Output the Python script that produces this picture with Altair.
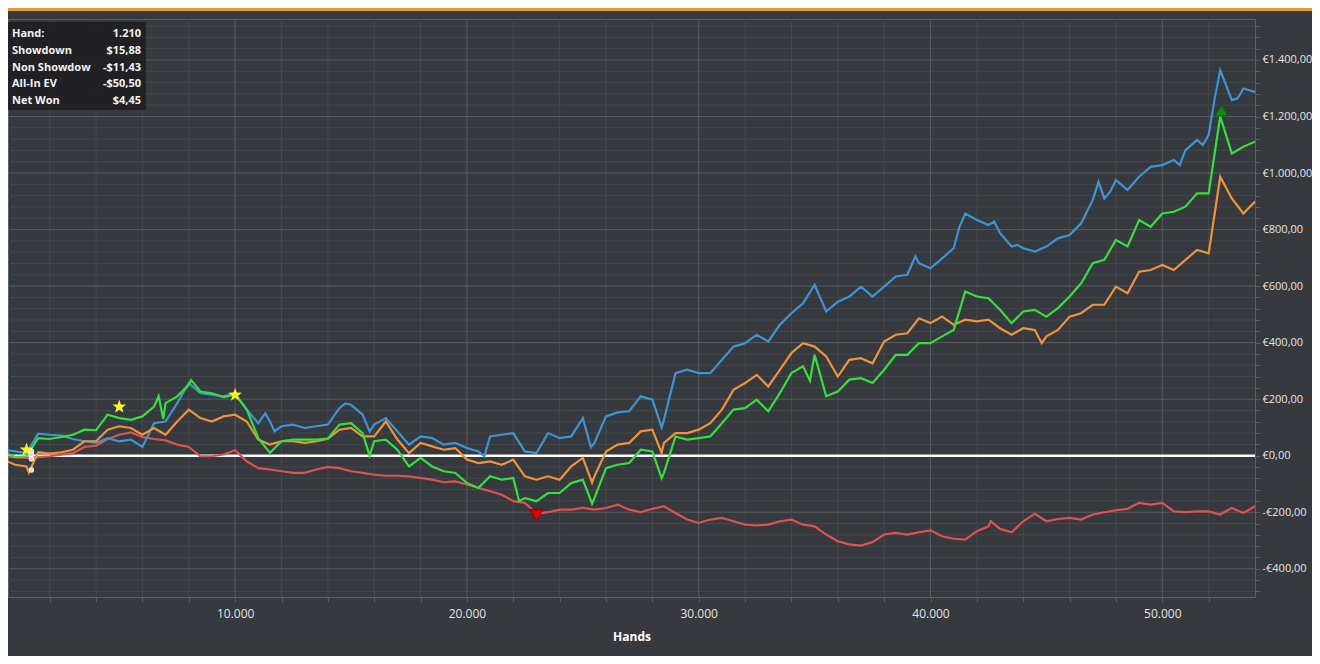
import altair as alt
import pandas as pd

# ---------------- data ----------------
hands = list(range(0, 54001, 500))

showdown = [21, 15, 9, 78, 74, 71, 59, 51, 45, 62, 51, 57, 31, 115, 121, 186, 257, 221, 216, 210,
            221, 163, 115, 121, 104, 110, 98, 104, 110, 168, 180, 145, 110, 133, 86, 39, 68, 62, 39, 45,
            27, 15, 68, 74, 80, 15, 9, 80, 62, 68, 133, 45, 139, 153, 157, 210, 198, 127, 292, 304,
            292, 292, 339, 386, 398, 428, 404, 463, 504, 539, 604, 510, 545, 563, 598, 563, 598, 634, 640, 681,
            663, 698, 734, 857, 834, 816, 787, 740, 734, 722, 740, 769, 781, 822, 905, 910, 975, 940, 987, 1022,
            1028, 1046, 1081, 1117, 1134, 1364, 1258, 1299, 1287]
showdown_extra_hands = [11300, 11700, 14750, 15800, 20750, 25350, 28400, 39350,
                        41250, 42750, 43750, 47250, 47750, 50750, 51750, 52250, 53250]
showdown_extra_values = [150, 86, 185, 86, -2, 30, 100, 705,
                         810, 828, 746, 969, 934, 1028, 1099, 1258, 1264]

net_won = [15, -5, -2, 62, 59, 66, 74, 92, 90, 145, 133, 127, 139, 174, 186, 210, 251, 227, 221, 207,
           216, 163, 62, 10, 51, 57, 57, 57, 60, 110, 115, 80, 51, 57, 21, -38, -8, -38, -55, -61,
           -97, -114, -73, -85, -79, -150, -161, -132, -132, -97, -85, -150, -44, -32, -26, 21, 15, -61, 68, 57,
           62, 68, 115, 163, 168, 198, 157, 221, 292, 316, 357, 210, 227, 269, 274, 257, 304, 357, 357, 398,
           398, 422, 445, 581, 563, 557, 516, 469, 510, 516, 492, 522, 563, 610, 681, 693, 763, 740, 834, 810,
           857, 863, 881, 928, 928, 1200, 1069, 1093, 1111]
net_won_extra_hands = [6700, 6900, 8100, 15800, 22250, 25400, 28400, 34800]
net_won_extra_values = [210, 130, 268, 0, -160, -170, -80, 265]

allin_ev = [-14, -32, -38, 12, 7, 12, 21, 51, 51, 92, 104, 98, 74, 98, 74, 121, 163, 133, 121, 139,
            145, 121, 57, 39, 51, 51, 45, 51, 60, 92, 98, 68, 68, 121, 57, 9, 45, 33, 21, 27,
            -14, -26, -20, -32, -14, -73, -85, -73, -85, -38, -8, -73, 15, 39, 45, 86, 92, 45, 80, 80,
            92, 115, 163, 233, 257, 286, 245, 304, 363, 398, 386, 351, 280, 339, 345, 327, 404, 428, 433, 486,
            469, 492, 463, 481, 475, 481, 451, 428, 451, 445, 422, 445, 492, 504, 534, 534, 598, 575, 651, 657,
            675, 657, 693, 728, 716, 987, 910, 857, 899]
allin_ev_extra_hands = [1100, 25400, 28400, 44800]
allin_ev_extra_values = [-60, -95, 10, 398]

non_showdown = [-2, -6, -8, -5, -2, 4, 9, 31, 35, 59, 74, 82, 66, 59, 54, 39, 31, -2, -2, 4,
                19, -20, -44, -49, -55, -61, -61, -49, -40, -44, -55, -61, -67, -71, -71, -73, -79, -85, -94, -91,
                -102, -114, -126, -138, -161, -167, -205, -200, -191, -191, -185, -191, -185, -173, -191, -200, -188, -179, -203, -226,
                -238, -226, -220, -232, -244, -247, -244, -232, -226, -244, -250, -279, -303, -314, -318, -306, -279, -273, -279, -271,
                -264, -285, -294, -297, -267, -250, -259, -271, -232, -206, -232, -224, -220, -226, -208, -200, -193, -188, -167, -173,
                -167, -197, -200, -197, -197, -208, -185, -203, -179]
non_showdown_extra_hands = [42600]
non_showdown_extra_values = [-232]

star_hands = [1000, 5000, 10000]
star_values = [21, 173, 215]
min_hand, min_value = [23000], [-210]
max_hand, max_value = [52550], [1222]
hover_hand = 1210
hover_values = [15.88, -11.43, -50.50, 4.45]

tooltip_labels = ["Hand:", "Showdown", "Non Showdown", "All-In EV", "Net Won"]
tooltip_values = ["1.210", "$15,88", "-$11,43", "-$50,50", "$4,45"]

x_ticks = list(range(2000, 54000, 2000))
y_ticks = list(range(-480, 1545, 40))

# ---------------- styling ----------------
BG = "#36393d"
GRID_MINOR = "#44484d"
GRID_MAJOR = "#575b60"
LABEL = "#e4e4e4"
FONT = "Open Sans"
STAR = ("M0,-1 L0.235,-0.324 L0.951,-0.309 L0.38,0.124 L0.588,0.809 L0,0.4 "
        "L-0.588,0.809 L-0.38,0.124 L-0.951,-0.309 L-0.235,-0.324 Z")

xs = alt.Scale(domain=[200, 54000], nice=False, zero=False)
ys = alt.Scale(domain=[-500, 1545], nice=False, zero=False)

x_axis = alt.Axis(
    values=x_ticks, grid=False, domain=False, tickColor=GRID_MAJOR, tickSize=5,
    labelExpr="datum.value % 10000 == 0 ? replace(format(datum.value, ','), ',', '.') : ''",
    labelOverlap=False, labelFlush=False, labelPadding=6, labelColor=LABEL, labelFontSize=12,
    labelFont=FONT, title="Hands", titleColor="#ffffff", titleFontSize=12, titleFont=FONT,
    titleFontWeight="bold", titlePadding=12,
)
y_axis = alt.Axis(
    orient="right", values=y_ticks, grid=False, domain=False, tickColor=GRID_MAJOR, tickSize=5,
    labelExpr=("datum.value % 200 != 0 ? '' : (datum.value < 0 ? '-' : '') + '€' + "
               "replace(replace(replace(format(abs(datum.value), ',.2f'), '.', '#'), ',', '.'), '#', ',')"),
    labelOverlap=False, labelFlush=False, labelPadding=2, labelColor=LABEL, labelFontSize=11,
    labelFont=FONT, title=None,
)

X = alt.X("hand:Q", scale=xs, axis=x_axis)
Y = alt.Y("value:Q", scale=ys, axis=y_axis)

# ---------------- grid ----------------
xg = pd.DataFrame({"hand": x_ticks})
xg_minor = xg[xg["hand"] % 10000 != 0]
xg_major = xg[xg["hand"] % 10000 == 0]
yg = pd.DataFrame({"value": y_ticks})
yg_minor = yg[yg["value"] % 200 != 0]
yg_major = yg[(yg["value"] % 200 == 0) & (yg["value"] != 0)]

grid = [
    alt.Chart(xg_minor).mark_rule(color=GRID_MINOR, strokeWidth=1).encode(x=X),
    alt.Chart(yg_minor).mark_rule(color=GRID_MINOR, strokeWidth=1).encode(y=Y),
    alt.Chart(xg_major).mark_rule(color=GRID_MAJOR, strokeWidth=1).encode(x=X),
    alt.Chart(yg_major).mark_rule(color=GRID_MAJOR, strokeWidth=1).encode(y=Y),
]

zero = alt.Chart(pd.DataFrame({"value": [0]})).mark_rule(color="#ffffff", strokeWidth=2.5).encode(y=Y)


def line(vals, extra_h, extra_v, color):
    df = pd.concat([
        pd.DataFrame({"hand": hands, "value": vals}),
        pd.DataFrame({"hand": extra_h, "value": extra_v}),
    ]).sort_values("hand").reset_index(drop=True)
    return alt.Chart(df).mark_line(color=color, strokeWidth=2.2, clip=True).encode(
        x=X, y=Y, order="hand:Q")


lines = [
    line(non_showdown, non_showdown_extra_hands, non_showdown_extra_values, "#de5252"),
    line(showdown, showdown_extra_hands, showdown_extra_values, "#3c96d6"),
    line(allin_ev, allin_ev_extra_hands, allin_ev_extra_values, "#ee9439"),
    line(net_won, net_won_extra_hands, net_won_extra_values, "#34e03d"),
]

stars = alt.Chart(pd.DataFrame({"hand": star_hands, "value": star_values})).mark_point(
    shape=STAR, filled=True, size=210, color="#fff21a", opacity=1).encode(x=X, y=Y)
tri_down = alt.Chart(pd.DataFrame({"hand": min_hand, "value": min_value})).mark_point(
    shape="triangle-down", filled=True, size=170, fill="#e00000", stroke="#8a0000",
    strokeWidth=1, opacity=1).encode(x=X, y=Y)
tri_up = alt.Chart(pd.DataFrame({"hand": max_hand, "value": max_value})).mark_point(
    shape="triangle-up", filled=True, size=170, fill="#0b8a12", stroke="#075c0b",
    strokeWidth=1, opacity=1).encode(x=X, y=Y)
hover = alt.Chart(pd.DataFrame({"hand": [hover_hand] * 4, "value": hover_values})).mark_point(
    shape="circle", filled=True, size=22, fill="#d8d8d8", stroke="#ffffff", strokeWidth=1,
    opacity=1).encode(x=X, y=Y)

one = pd.DataFrame({"a": [0]})
box = alt.Chart(one).mark_rect(fill="#1f2023", opacity=0.92).encode(
    x=alt.value(0), x2=alt.value(138), y=alt.value(3), y2=alt.value(91))
tip_l = alt.Chart(one).mark_text(
    text=tooltip_labels, align="left", baseline="middle", lineHeight=16.75, font=FONT,
    fontSize=11, fontWeight="bold", color="#f2f2f2", limit=84, ellipsis="\u200b").encode(
    x=alt.value(4), y=alt.value(15))
tip_v = alt.Chart(one).mark_text(
    text=tooltip_values, align="right", baseline="middle", lineHeight=16.75, font=FONT,
    fontSize=11, fontWeight="bold", color="#f2f2f2").encode(
    x=alt.value(133), y=alt.value(15))

header = alt.Chart(one).mark_rect(fill="#e49b3c").encode(
    x=alt.value(0), x2=alt.value(1304), y=alt.value(-11), y2=alt.value(-8))

chart = alt.layer(
    *grid, zero, *lines, stars, tri_down, tri_up, hover, box, tip_l, tip_v, header
).properties(
    width=1247, height=578,
    autosize=alt.AutoSizeParams(type="none"),
    padding={"left": 0, "top": 11, "right": 57, "bottom": 59},
    background=BG,
).configure_view(
    fill=BG, stroke="#5c6065", strokeWidth=1,
)

chart.save("out.html", embed_options={"renderer": "svg", "actions": False})
